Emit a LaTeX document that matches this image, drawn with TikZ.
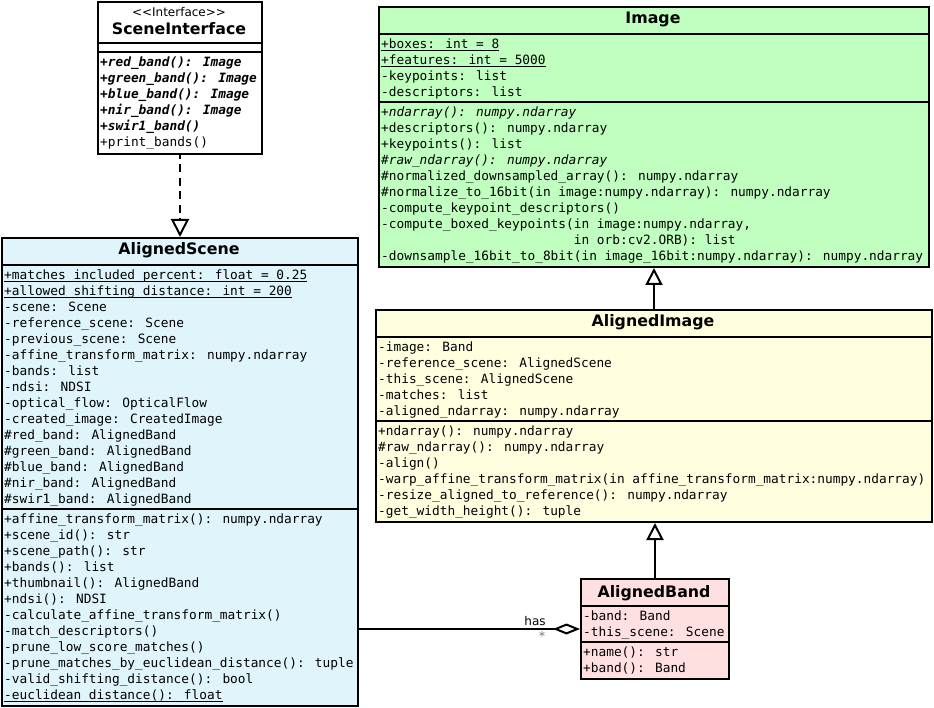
\documentclass[tikz,border=0pt]{standalone}
\usepackage{fontspec}
\setmainfont{DejaVu Sans}
\newfontfamily\codefont{DejaVu Sans Mono}
\usetikzlibrary{arrows.meta}

\definecolor{scenefill}{HTML}{DFF5FB}
\definecolor{imagefill}{HTML}{C0FFC0}
\definecolor{alignedfill}{HTML}{FFFFE0}
\definecolor{bandfill}{HTML}{FFE0E0}
\definecolor{multgray}{HTML}{707070}

% underline for static members
\newsavebox\ulbox
\newcommand\ulined[1]{\sbox\ulbox{#1}\rlap{\rule[-2.8pt]{\wd\ulbox}{1pt}}\usebox\ulbox}

% one member row per list item, 16pt apart, named <prefix>-<n>
\newcommand\compartment[4]{%
  \foreach \txt [count=\i] in {#4} {\node[member] (#1-\i) at (#2,{#3+16*(\i-1)}) {\txt};}}

\tikzset{
  classbox/.style={draw, line width=2pt, rectangle, anchor=north west, inner sep=0pt},
  member/.style={anchor=base west, inner sep=0pt, font=\codefont\fontsize{12.8}{16}\selectfont},
  classtitle/.style={anchor=base, inner sep=0pt, font=\bfseries\fontsize{15.8}{18}\selectfont},
  stereo/.style={anchor=base, inner sep=0pt, font=\fontsize{12}{14}\selectfont},
  assoclabel/.style={inner sep=0pt, font=\fontsize{12}{14}\selectfont},
  divider/.style={line width=2pt},
  generalize/.style={line width=2pt, -{Triangle[length=17pt, width=17pt, fill=white]}},
  realize/.style={line width=2pt, dash pattern=on 8pt off 5.5pt, dash phase=4pt,
    -{Triangle[length=18pt, width=18pt, fill=white]}},
  aggregate/.style={line width=2pt, -{Diamond[length=27pt, width=11pt, fill=white]}},
}

\begin{document}
\begin{tikzpicture}[x=1pt, y=-1pt]
\fill[white] (0,0) rectangle (934,708);
\useasboundingbox (0,0) rectangle (934,708);

% ---------- SceneInterface ----------
\node[classbox, fill=white, minimum width=164pt, minimum height=152pt] (si) at (97,1) {};
\draw[divider] (97,43) -- (261,43);
\draw[divider] (97,52) -- (261,52);
\node[stereo] (si-stereo) at (179,17) {<\kern0pt<Interface>\kern0pt>};
\node[classtitle] (si-title) at (179,35) {SceneInterface};
\compartment{si-m}{100}{66.5}{%
  \textbf{\textit{+red\_band(): Image}},
  \textbf{\textit{+green\_band(): Image}},
  \textbf{\textit{+blue\_band(): Image}},
  \textbf{\textit{+nir\_band(): Image}},
  \textbf{\textit{+swir1\_band()}},
  +print\_bands()}

% ---------- AlignedScene ----------
\node[classbox, fill=scenefill, minimum width=356pt, minimum height=468pt] (as) at (1,237) {};
\draw[divider] (1,265) -- (357,265);
\draw[divider] (1,509) -- (357,509);
\node[classtitle] (as-title) at (179,255) {AlignedScene};
\compartment{as-a}{4}{279.5}{%
  \ulined{+matches\_included\_percent: float = 0.25},
  \ulined{+allowed\_shifting\_distance: int = 200},
  -scene: Scene,
  -reference\_scene: Scene,
  -previous\_scene: Scene,
  -affine\_transform\_matrix: numpy.ndarray,
  -bands: list,
  -ndsi: NDSI,
  -optical\_flow: OpticalFlow,
  -created\_image: CreatedImage,
  \#red\_band: AlignedBand,
  \#green\_band: AlignedBand,
  \#blue\_band: AlignedBand,
  \#nir\_band: AlignedBand,
  \#swir1\_band: AlignedBand}
\compartment{as-m}{4}{523.5}{%
  +affine\_transform\_matrix(): numpy.ndarray,
  +scene\_id(): str,
  +scene\_path(): str,
  +bands(): list,
  +thumbnail(): AlignedBand,
  +ndsi(): NDSI,
  -calculate\_affine\_transform\_matrix(),
  -match\_descriptors(),
  -prune\_low\_score\_matches(),
  -prune\_matches\_by\_euclidean\_distance(): tuple,
  -valid\_shifting\_distance(): bool,
  \ulined{-euclidean\_distance(): float}}

% ---------- Image ----------
\node[classbox, fill=imagefill, minimum width=550pt, minimum height=260pt] (img) at (378,6) {};
\draw[divider] (378,34) -- (928,34);
\draw[divider] (378,102) -- (928,102);
\node[classtitle] (img-title) at (653,24) {Image};
\compartment{img-a}{381}{48.5}{%
  \ulined{+boxes: int = 8},
  \ulined{+features: int = 5000},
  -keypoints: list,
  -descriptors: list}
\compartment{img-m}{381}{116.5}{%
  \textit{+ndarray(): numpy.ndarray},
  +descriptors(): numpy.ndarray,
  +keypoints(): list,
  \textit{\#raw\_ndarray(): numpy.ndarray},
  \#normalized\_downsampled\_array(): numpy.ndarray,
  \#normalize\_to\_16bit(in image:numpy.ndarray): numpy.ndarray,
  -compute\_keypoint\_descriptors(),
  {-compute\_boxed\_keypoints(in image:numpy.ndarray,},
  \phantom{-compute\_boxed\_keypoints(}in orb:cv2.ORB): list,
  -downsample\_16bit\_to\_8bit(in image\_16bit:numpy.ndarray): numpy.ndarray}

% ---------- AlignedImage ----------
\node[classbox, fill=alignedfill, minimum width=556pt, minimum height=212pt] (ai) at (375,309) {};
\draw[divider] (375,337) -- (931,337);
\draw[divider] (375,421) -- (931,421);
\node[classtitle] (ai-title) at (653,327) {AlignedImage};
\compartment{ai-a}{378}{351.5}{%
  -image: Band,
  -reference\_scene: AlignedScene,
  -this\_scene: AlignedScene,
  -matches: list,
  -aligned\_ndarray: numpy.ndarray}
\compartment{ai-m}{378}{435.5}{%
  +ndarray(): numpy.ndarray,
  \#raw\_ndarray(): numpy.ndarray,
  -align(),
  -warp\_affine\_transform\_matrix(in affine\_transform\_matrix:numpy.ndarray),
  -resize\_aligned\_to\_reference(): numpy.ndarray,
  -get\_width\_height(): tuple}

% ---------- AlignedBand ----------
\node[classbox, fill=bandfill, minimum width=148pt, minimum height=100pt] (ab) at (580,578) {};
\draw[divider] (580,606) -- (728,606);
\draw[divider] (580,642) -- (728,642);
\node[classtitle] (ab-title) at (654,597) {AlignedBand};
\compartment{ab-a}{583}{620.5}{%
  -band: Band,
  -this\_scene: Scene}
\compartment{ab-m}{583}{656.5}{%
  +name(): str,
  +band(): Band}

% ---------- relations ----------
\draw[realize] (si.south) -- (as.north);
\draw[generalize] (ai.north) -- (img.south);
\draw[generalize] (ab.north) -- (ab.north |- ai.south);
\draw[aggregate] (ab.west -| as.east) -- (ab.west);
\node[assoclabel, anchor=base] (has) at (535,625) {has};
\node[assoclabel, text=multgray] (mult) at (542,636) {*};
\end{tikzpicture}
\end{document}
